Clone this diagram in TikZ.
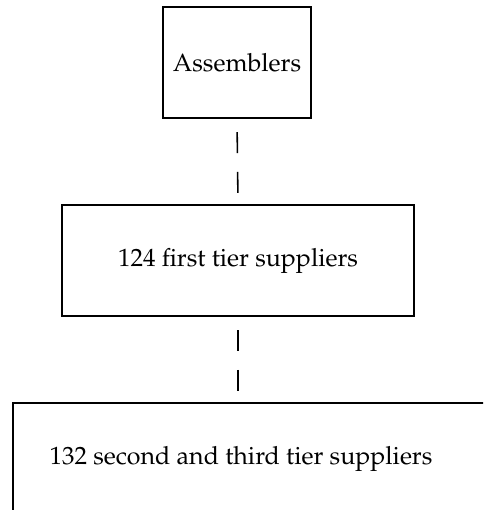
\documentclass[tikz,border=0pt,12pt]{standalone}
\usepackage[T1]{fontenc}
\usepackage{mathpazo}
\usepackage{tikz}

\begin{document}
\begin{tikzpicture}[x=0.48pt, y=-0.48pt,
        box/.style={draw, line width=1pt, rectangle, minimum height=53.3pt},
        tier/.style={line width=0.75pt, dash pattern=on 10pt off 9.1pt, dash phase=12.8pt}]
        \path [use as bounding box, clip] (0,0) rectangle (483,510);

        \node [box, minimum width=71pt] (asm) at (237,62.5) {Assemblers};
        \node [box, minimum width=169pt] (first) at (238,260.5) {124 first tier suppliers};
        \node [box, minimum width=250pt, anchor=north west] (second) at (12,402) {};
        \node (secondtext) at (241,458.5) {132 second and third tier suppliers};

        \draw [tier] (asm.south) -- (first.north);
        \draw [tier] (first.south) -- (first.south |- second.north);
    \end{tikzpicture}
\end{document}
